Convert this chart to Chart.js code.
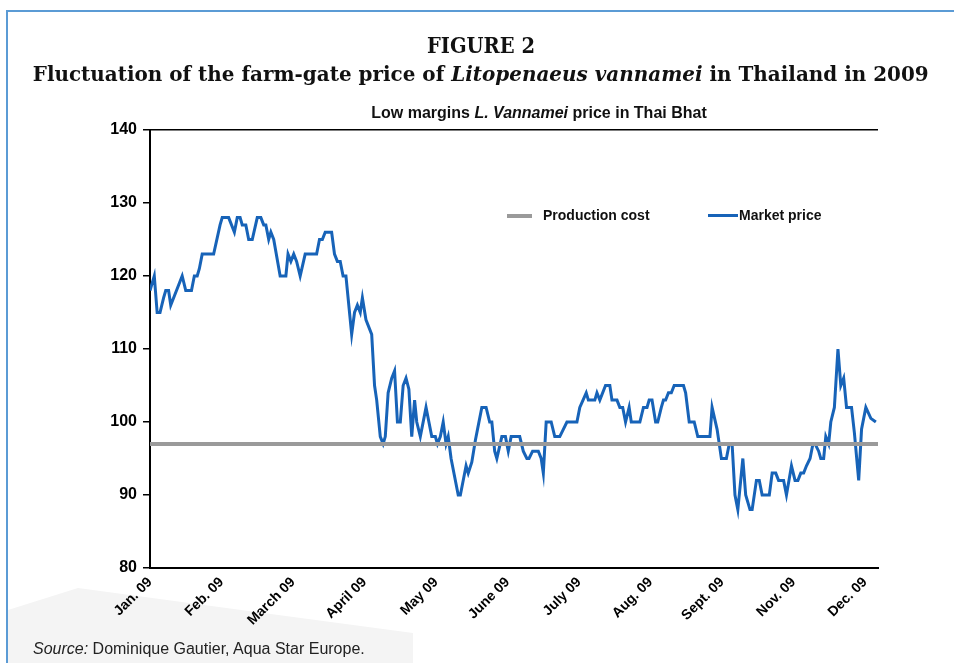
<!DOCTYPE html>
<html>
<head>
<meta charset="utf-8">
<script src="https://cdn.jsdelivr.net/npm/chart.js@4.4.1/dist/chart.umd.min.js"></script>
<style>
  html, body { margin: 0; padding: 0; background: #fff; }
  #page { position: relative; width: 954px; height: 663px; overflow: hidden; font-family: Arial, "Liberation Sans", sans-serif; }
  #frame { position: absolute; left: 6px; top: 10px; width: 1000px; height: 700px; border-left: 2px solid #5b9bd5; border-top: 2px solid #5b9bd5; }
  #shade { position: absolute; left: 8px; top: 588px; width: 405px; height: 75px; background: #f4f4f4;
           clip-path: polygon(0 22px, 70px 0, 100% 45px, 100% 100%, 0 100%); }
  #chart { position: absolute; left: 0; top: 0; }
  .head { position: absolute; left: 8px; width: 946px; text-align: center; font-family: "DejaVu Serif", serif; font-weight: bold; color: #111; white-space: nowrap; }
  .head span { display: inline-block; transform-origin: center; }
  #fig { top: 32px; font-size: 22px; line-height: 26px; }
  #sub { top: 61px; font-size: 21px; line-height: 26px; }
  #ctitle { position: absolute; left: 0; width: 1078px; top: 103px; text-align: center; font-weight: bold; font-size: 16px; line-height: 20px; color: #111; }
  #legend { position: absolute; top: 205px; left: 0; font-weight: bold; font-size: 14px; color: #111; }
  .lg { position: absolute; white-space: nowrap; line-height: 20px; }
  .lg b { position: absolute; top: 9px; }
  #source { position: absolute; left: 33px; top: 640px; font-size: 16px; color: #222; }
</style>
</head>
<body>
<div id="page">
  <div id="frame"></div>
  <div id="shade"></div>
  <canvas id="chart" width="954" height="663"></canvas>
  <div id="fig" class="head"><span data-w="108">FIGURE 2</span></div>
  <div id="sub" class="head"><span data-w="896">Fluctuation of the farm-gate price of <i>Litopenaeus vannamei</i> in Thailand in 2009</span></div>
  <div id="ctitle">Low margins <i>L. Vannamei</i> price in Thai Bhat</div>
  <div id="legend"></div>
  <div id="source"><i>Source:</i> Dominique Gautier, Aqua Star Europe.</div>
</div>
<script>
// tick labels, one per month step on the x axis (October is missing in the original)
const monthLabels = ["Jan. 09", "Feb. 09", "March 09", "April 09", "May 09", "June 09",
                     "July 09", "Aug. 09", "Sept. 09", "Nov. 09", "Dec. 09"];

// position of each reading, in month steps from "Jan. 09"
const datePos = [
  0, 0.06, 0.10, 0.14, 0.19, 0.22, 0.26, 0.29, 0.45, 0.50,
  0.58, 0.62, 0.66, 0.69, 0.73, 0.89, 0.98, 1.01, 1.10, 1.18,
  1.22, 1.26, 1.29, 1.34, 1.38, 1.43, 1.50, 1.55, 1.59, 1.62,
  1.66, 1.69, 1.73, 1.82, 1.90, 1.93, 1.97, 2.01, 2.05, 2.10,
  2.17, 2.33, 2.37, 2.41, 2.45, 2.54, 2.58, 2.62, 2.66, 2.70,
  2.74, 2.82, 2.86, 2.90, 2.94, 2.97, 3.02, 3.10, 3.14, 3.17,
  3.22, 3.26, 3.29, 3.33, 3.38, 3.42, 3.46, 3.50, 3.54, 3.58,
  3.62, 3.66, 3.70, 3.73, 3.78, 3.86, 3.90, 3.94, 3.99, 4.02,
  4.06, 4.10, 4.14, 4.17, 4.21, 4.31, 4.34, 4.42, 4.45, 4.50,
  4.55, 4.59, 4.64, 4.70, 4.75, 4.78, 4.82, 4.85, 4.92, 4.97,
  5.01, 5.05, 5.17, 5.22, 5.27, 5.30, 5.35, 5.43, 5.47, 5.50,
  5.54, 5.61, 5.66, 5.73, 5.83, 5.97, 6.01, 6.10, 6.13, 6.22,
  6.25, 6.29, 6.37, 6.43, 6.46, 6.53, 6.57, 6.61, 6.65, 6.70,
  6.73, 6.85, 6.90, 6.95, 6.98, 7.02, 7.07, 7.10, 7.15, 7.18,
  7.21, 7.25, 7.29, 7.33, 7.46, 7.49, 7.54, 7.61, 7.66, 7.83,
  7.86, 7.93, 7.96, 7.99, 8.06, 8.10, 8.14, 8.18, 8.22, 8.29,
  8.33, 8.39, 8.42, 8.48, 8.52, 8.56, 8.66, 8.70, 8.75, 8.79,
  8.86, 8.90, 8.97, 9.02, 9.06, 9.10, 9.14, 9.18, 9.23, 9.27,
  9.30, 9.35, 9.38, 9.42, 9.45, 9.49, 9.52, 9.57, 9.62, 9.66,
  9.70, 9.74, 9.81, 9.85, 9.91, 9.95, 10.01, 10.08, 10.15
];

// market price, Thai Baht per kg
const marketPrice = [
  118, 120, 115, 115, 117, 118, 118, 116, 120, 118,
  118, 120, 120, 121, 123, 123, 127, 128, 128, 126,
  128, 128, 127, 127, 125, 125, 128, 128, 127, 127,
  125, 126, 125, 120, 120, 123, 122, 123, 122, 120,
  123, 123, 125, 125, 126, 126, 123, 122, 122, 120,
  120, 112, 115, 116, 115, 117, 114, 112, 105, 103,
  98, 97, 98, 104, 106, 107, 100, 100, 105, 106,
  104.5, 98, 103, 100, 98, 102, 100, 98, 98, 97,
  98, 100, 97, 98, 95, 90, 90, 94, 93, 94.5,
  97.5, 99.5, 102, 102, 100, 100, 96, 95, 98, 98,
  96, 98, 98, 96, 95, 95, 96, 96, 95, 93,
  100, 100, 98, 98, 100, 100, 102, 104, 103, 103,
  104, 103, 105, 105, 103, 103, 102, 102, 100, 102,
  100, 100, 102, 102, 103, 103, 100, 100, 102, 103,
  103, 104, 104, 105, 105, 104, 100, 100, 98, 98,
  102, 99, 97, 95, 95, 97, 97, 90, 88, 95,
  90, 88, 88, 92, 92, 90, 90, 93, 93, 92,
  92, 90, 94, 92, 92, 93, 93, 94, 95, 97,
  97, 96, 95, 95, 98, 97, 100, 102, 110, 105,
  106, 102, 102, 98.5, 92, 99, 102, 100.5, 100
];

const productionCost = 97;
const xMax = 10.18;

const costColor = "#9a9a9a";
const priceColor = "#1763b8";

const marketData = datePos.map((x, i) => ({ x: x, y: marketPrice[i] }));
const costData = [{ x: 0, y: productionCost }, { x: xMax, y: productionCost }];

Chart.defaults.font.family = "Arial, 'Liberation Sans', sans-serif";
Chart.defaults.color = "#000";

const chart = new Chart(document.getElementById("chart"), {
  type: "line",
  data: {
    datasets: [
      { label: "Production cost", data: costData, borderColor: costColor, borderWidth: 4, pointRadius: 0 },
      { label: "Market price", data: marketData, borderColor: priceColor, borderWidth: 3, pointRadius: 0, tension: 0 }
    ]
  },
  options: {
    responsive: false,
    animation: false,
    devicePixelRatio: 1,
    layout: { padding: { top: 130, right: 76, left: 0, bottom: 0 } },
    plugins: { legend: { display: false }, tooltip: { enabled: false } },
    scales: {
      x: {
        type: "linear",
        min: 0,
        max: xMax,
        afterFit: s => { s.height = 95; },
        afterBuildTicks: s => { s.ticks = monthLabels.map((m, i) => ({ value: i })); },
        ticks: {
          autoSkip: false,
          maxRotation: 45,
          minRotation: 45,
          padding: 6,
          font: { size: 14, weight: "bold" },
          callback: v => monthLabels[v]
        },
        grid: { display: false, drawTicks: false },
        border: { color: "#000", width: 2 }
      },
      y: {
        min: 80,
        max: 140,
        afterFit: s => { s.width = 150; },
        ticks: { stepSize: 10, padding: 6, font: { size: 16, weight: "bold" } },
        grid: {
          color: ctx => (ctx.tick && ctx.tick.value === 140 ? "#000" : "rgba(0,0,0,0)"),
          tickColor: "#000",
          tickLength: 7,
          lineWidth: 1.5
        },
        border: { color: "#000", width: 2 }
      }
    }
  }
});

// legend built from the datasets
const legendPos = [{ line: 507, len: 25, text: 543 }, { line: 708, len: 30, text: 739 }];
const legend = document.getElementById("legend");
chart.data.datasets.forEach((ds, i) => {
  const p = legendPos[i];
  const item = document.createElement("div");
  item.className = "lg";
  item.style.left = p.line + "px";
  item.innerHTML = '<b style="left:0;width:' + p.len + 'px;height:' + ds.borderWidth + 'px;background:' +
    ds.borderColor + '"></b><span style="position:absolute;left:' + (p.text - p.line) + 'px">' + ds.label + '</span>';
  legend.appendChild(item);
});

// fit the serif headings to the width they take in the figure
document.querySelectorAll(".head span").forEach(sp => {
  const w = sp.getBoundingClientRect().width;
  sp.style.transform = "scaleX(" + (Number(sp.dataset.w) / w) + ")";
});
</script>
</body>
</html>
